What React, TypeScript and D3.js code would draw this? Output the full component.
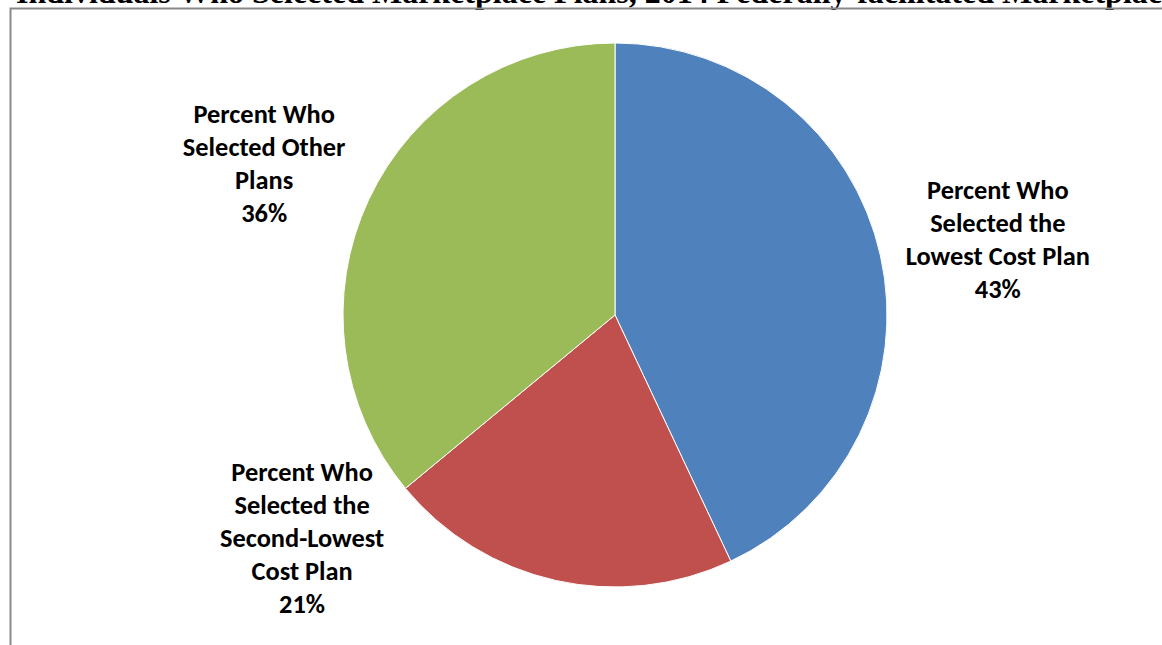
import React from "react";
import * as d3 from "d3";

const W = 1162;
const H = 645;

const categories = [
  ["Percent Who", "Selected the", "Lowest Cost Plan"],
  ["Percent Who", "Selected the", "Second-Lowest", "Cost Plan"],
  ["Percent Who", "Selected Other", "Plans"],
];
const values = [43, 21, 36];
const colors = ["#4F81BD", "#C0504D", "#9BBB59"];
const labelNudge = [
  [12, 12],
  [-230, -143],
  [-7, 15],
];
const title = "Individuals Who Selected Marketplace Plans, 2014 Federally-facilitated Marketplace";

export default function App() {
  const cx = 615;
  const cy = 315;
  const r = 272;
  const pie = d3.pie<number>().sort(null).value((d) => d);
  const arcs = pie(values);
  const arc = d3.arc<d3.PieArcDatum<number>>().innerRadius(0).outerRadius(r);
  const labelArc = d3.arc<d3.PieArcDatum<number>>().innerRadius(380).outerRadius(380);
  const lineH = 33;
  const total = d3.sum(values);
  return (
    <svg width={W} height={H} style={{ position: "absolute", left: 0, top: 0 }}>
      <rect x={0} y={0} width={W} height={H} fill="#fff" />
      <text x={16} y={3} fontFamily="'Liberation Serif', 'Times New Roman', serif" fontWeight="bold" fontSize={32} fill="#000">
        {title}
      </text>
      <path d={`M10.5,${H} L10.5,8.5 L${W},8.5`} fill="none" stroke="#898989" strokeWidth={2} />
      <g transform={`translate(${cx},${cy})`}>
        {arcs.map((a, i) => (
          <path key={i} d={arc(a) || ""} fill={colors[i]} stroke="#fff" strokeWidth={1} />
        ))}
        {arcs.map((a, i) => {
          const [lx, ly] = labelArc.centroid(a);
          const lines = [...categories[i], `${Math.round((values[i] / total) * 100)}%`];
          const x = lx + labelNudge[i][0];
          const yc = ly + labelNudge[i][1];
          const y0 = yc - ((lines.length - 1) * lineH) / 2 + 4;
          return (
            <text key={"l" + i} textAnchor="middle" fontFamily="Carlito, Calibri, Lato, sans-serif" fontWeight="bold" fontSize={26.4} fill="#000">
              {lines.map((t, j) => (
                <tspan key={j} x={x} y={y0 + j * lineH}>
                  {t}
                </tspan>
              ))}
            </text>
          );
        })}
      </g>
    </svg>
  );
}
